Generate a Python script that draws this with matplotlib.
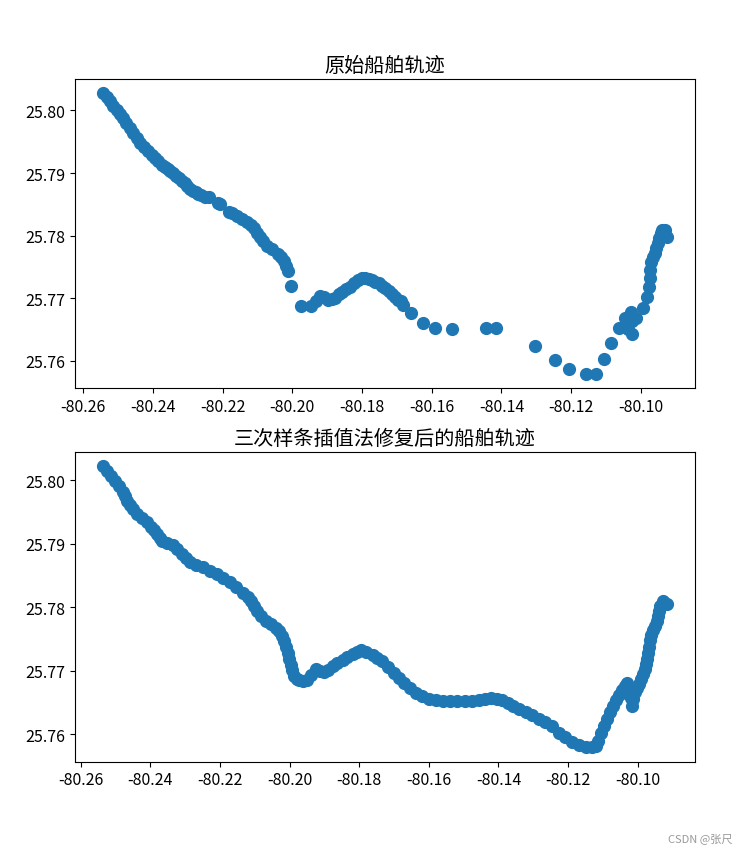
import numpy as np
import matplotlib.pyplot as plt

plt.rcParams['font.family'] = ['Noto Sans CJK SC', 'DejaVu Sans']
plt.rcParams['axes.unicode_minus'] = False

# original track (with gaps)
lon_raw = [-80.25427, -80.25330, -80.25234, -80.25134, -80.25034, -80.24948, -80.24862,
           -80.24762, -80.24661, -80.24560, -80.24460, -80.24360, -80.24260, -80.24145,
           -80.24030, -80.23944, -80.23858, -80.23743, -80.23657, -80.23571, -80.23500,
           -80.23428, -80.23342, -80.23256, -80.23170, -80.23084, -80.23012, -80.22941,
           -80.22855, -80.22768, -80.22697, -80.22625, -80.22510, -80.22396, -80.22138,
           -80.22080,
           -80.21822, -80.21736, -80.21593, -80.21449, -80.21306, -80.21191, -80.21105,
           -80.21019, -80.20933, -80.20847, -80.20733, -80.20589, -80.20417, -80.20331,
           -80.20245, -80.20188, -80.20130, -80.20024, -80.19738, -80.19451, -80.19328,
           -80.19213, -80.19098, -80.18984, -80.18869, -80.18783, -80.18668, -80.18582,
           -80.18467, -80.18353, -80.18238, -80.18123, -80.18009, -80.17923, -80.17808,
           -80.17722, -80.17636, -80.17521, -80.17435, -80.17349, -80.17234, -80.17148,
           -80.17062, -80.16976, -80.16890, -80.16833, -80.16583, -80.16251, -80.15915,
           -80.15408, -80.14453, -80.14166, -80.13048, -80.12466, -80.12073, -80.11586,
           -80.11299, -80.11070, -80.10849, -80.10639, -80.10467, -80.10410, -80.10381,
           -80.10275, -80.10267, -80.10267, -80.10132, -80.09943, -80.09828, -80.09771,
           -80.09750, -80.09750, -80.09722, -80.09664, -80.09607, -80.09550, -80.09512,
           -80.09464, -80.09415, -80.09378, -80.09320, -80.09254, -80.09406]
lat_raw = [25.80277, 25.80213, 25.80149, 25.80077, 25.80005, 25.79941, 25.79877,
           25.79797, 25.79717, 25.79637, 25.79557, 25.79485, 25.79413, 25.79349,
           25.79285, 25.79237, 25.79189, 25.79125, 25.79093, 25.79061, 25.79029,
           25.78997, 25.78957, 25.78917, 25.78877, 25.78837, 25.78789, 25.78741,
           25.78717, 25.78693, 25.78669, 25.78645, 25.78621, 25.78613, 25.78517,
           25.78501,
           25.78373, 25.78357, 25.78309, 25.78261, 25.78221, 25.78165, 25.78117,
           25.78037, 25.77973, 25.77909, 25.77829, 25.77781, 25.77701, 25.77653,
           25.77589, 25.77509, 25.77429, 25.77200, 25.76880, 25.76880, 25.76949,
           25.77040, 25.77013, 25.76970, 25.76989, 25.77008, 25.77061, 25.77104,
           25.77141, 25.77184, 25.77237, 25.77285, 25.77317, 25.77328, 25.77301,
           25.77285, 25.77264, 25.77237, 25.77197, 25.77157, 25.77109, 25.77069,
           25.77024, 25.76973, 25.76949, 25.76890, 25.76757, 25.76597, 25.76528,
           25.76517, 25.76528, 25.76528, 25.76245, 25.76021, 25.75877, 25.75786,
           25.75786, 25.76032, 25.76288, 25.76533, 25.76677, 25.76597, 25.76517,
           25.76784, 25.76437, 25.76629, 25.76677, 25.76837, 25.77013, 25.77173,
           25.77317, 25.77450, 25.77584, 25.77653, 25.77717, 25.77797, 25.77877,
           25.77957, 25.78037, 25.78085, 25.78090, 25.77984, 25.78053]

# repaired track (cubic spline)
lon_fix = [-80.25352, -80.25246, -80.25132, -80.25017, -80.24903, -80.24788, -80.24731,
           -80.24673, -80.24587, -80.24501, -80.24387, -80.24244, -80.24100, -80.23986,
           -80.23900, -80.23814, -80.23728, -80.23671, -80.23527, -80.23355, -80.23241,
           -80.23097, -80.22983, -80.22868, -80.22696, -80.22496, -80.22295, -80.22095,
           -80.21923, -80.21722, -80.21550, -80.21350, -80.21206, -80.21092, -80.21034,
           -80.20948, -80.20805, -80.20662, -80.20519, -80.20375, -80.20290, -80.20204,
           -80.20146, -80.20089, -80.20046, -80.20003, -80.19960, -80.19917, -80.19860,
           -80.19774, -80.19716, -80.19602, -80.19487, -80.19373, -80.19238, -80.19115,
           -80.19000, -80.18886, -80.18762, -80.18628, -80.18476, -80.18341, -80.18189,
           -80.18055, -80.17949, -80.17797, -80.17616, -80.17481, -80.17330, -80.17166,
           -80.16994, -80.16851, -80.16708, -80.16536, -80.16373, -80.16192, -80.15992,
           -80.15791, -80.15590, -80.15390, -80.15189, -80.14960, -80.14759, -80.14559,
           -80.14387, -80.14215, -80.14043, -80.13900, -80.13728, -80.13585, -80.13413,
           -80.13212, -80.13040, -80.12840, -80.12668, -80.12467, -80.12267, -80.12095,
           -80.11894, -80.11694, -80.11493, -80.11321, -80.11207, -80.11149, -80.11063,
           -80.10977, -80.10891, -80.10805, -80.10719, -80.10633, -80.10547, -80.10462,
           -80.10376, -80.10304, -80.10232, -80.10189, -80.10175, -80.10132, -80.10089,
           -80.10032, -80.09974, -80.09917, -80.09860, -80.09802, -80.09774, -80.09745,
           -80.09716, -80.09688, -80.09659, -80.09631, -80.09573, -80.09496, -80.09459,
           -80.09430, -80.09401, -80.09353, -80.09287, -80.09164]
lat_fix = [25.80222, 25.80154, 25.80074, 25.79995, 25.79908, 25.79816, 25.79750,
           25.79678, 25.79607, 25.79544, 25.79472, 25.79409, 25.79341, 25.79266,
           25.79211, 25.79155, 25.79092, 25.79049, 25.79013, 25.78986, 25.78918,
           25.78838, 25.78775, 25.78707, 25.78664, 25.78628, 25.78577, 25.78521,
           25.78458, 25.78390, 25.78315, 25.78231, 25.78165, 25.78098, 25.78022,
           25.77940, 25.77856, 25.77781, 25.77729, 25.77677, 25.77618, 25.77539,
           25.77460, 25.77372, 25.77285, 25.77190, 25.77095, 25.77016, 25.76921,
           25.76873, 25.76849, 25.76841, 25.76857, 25.76937, 25.77027, 25.77000,
           25.76973, 25.77016, 25.77068, 25.77119, 25.77174, 25.77222, 25.77269,
           25.77301, 25.77322, 25.77301, 25.77254, 25.77206, 25.77147, 25.77063,
           25.76963, 25.76889, 25.76805, 25.76723, 25.76647, 25.76596, 25.76556,
           25.76532, 25.76525, 25.76517, 25.76513, 25.76513, 25.76517, 25.76540,
           25.76556, 25.76567, 25.76559, 25.76540, 25.76493, 25.76445, 25.76398,
           25.76350, 25.76303, 25.76239, 25.76184, 25.76128, 25.76017, 25.75946,
           25.75875, 25.75827, 25.75799, 25.75788, 25.75811, 25.75891, 25.76017,
           25.76128, 25.76239, 25.76350, 25.76445, 25.76540, 25.76620, 25.76699,
           25.76762, 25.76810, 25.76699, 25.76572, 25.76445, 25.76556, 25.76667,
           25.76731, 25.76794, 25.76873, 25.76952, 25.77032, 25.77111, 25.77190,
           25.77285, 25.77380, 25.77475, 25.77563, 25.77634, 25.77702, 25.77777,
           25.77856, 25.77935, 25.78019, 25.78098, 25.78046]

fig = plt.figure(figsize=(7.49, 8.54), dpi=100)

ax1 = fig.add_axes([0.1001, 0.5441, 0.8278, 0.3622])
ax1.scatter(lon_raw, lat_raw, s=72, color='#1f77b4')
ax1.set_title('原始船舶轨迹', fontsize=14.5)
ax1.tick_params(labelsize=11.5)

ax2 = fig.add_axes([0.1001, 0.1071, 0.8278, 0.3622])
ax2.scatter(lon_fix, lat_fix, s=72, color='#1f77b4')
ax2.set_title('三次样条插值法修复后的船舶轨迹', fontsize=14.5)
ax2.tick_params(labelsize=11.5)

for ax in (ax1, ax2):
    ax.set_xticks([-80.26, -80.24, -80.22, -80.20, -80.18, -80.16, -80.14, -80.12, -80.10])
    ax.set_yticks([25.76, 25.77, 25.78, 25.79, 25.80])

fig.text(0.978, 0.012, 'CSDN @张尺', ha='right', va='bottom', fontsize=8, color='#999999')

fig.savefig('out.png', dpi=100)
